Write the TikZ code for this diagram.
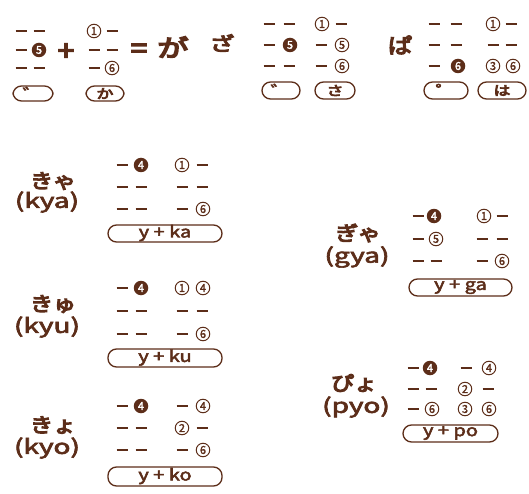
\documentclass[tikz,border=0pt]{standalone}
\usepackage{fontspec}
\usepackage{graphicx}
\newfontfamily\cjk{Noto Sans CJK JP}[FakeBold=2.8]
\newfontfamily\cjkh{Noto Sans CJK JP}[FakeBold=5.5]
\newfontfamily\cjkn{Noto Sans CJK JP}[FakeBold=2]
\definecolor{br}{RGB}{92,45,25}
\newcommand\SX[2]{\scalebox{#1}[1]{#2}}
\tikzset{
  dashln/.style={draw=br, line width=1.6pt},
  ocirc/.style={circle, draw=br, line width=1pt, inner sep=0pt, minimum size=13.5pt, text=br, font=\cjkn\fontsize{11}{11}\selectfont},
  fcirc/.style={circle, fill=br, inner sep=0pt, minimum size=14.5pt, text=white, font=\cjkn\fontsize{11}{11}\selectfont},
  capsule/.style={draw=br, line width=1.3pt, rounded corners=8.5pt},
  captext/.style={text=br, inner sep=0pt, font=\cjk\fontsize{16}{16}\selectfont},
  kana/.style={text=br, inner sep=0pt, font=\cjkh\fontsize{20}{20}\selectfont},
  roma/.style={text=br, inner sep=0pt, font=\cjk\fontsize{20}{20}\selectfont},
  big/.style={text=br, inner sep=0pt, font=\cjkh\fontsize{20}{20}\selectfont},
}
\newcommand\Dsh[2]{\draw[dashln] ({#1-5.5},#2) -- ({#1+5.5},#2);}
\newcommand\Oc[3]{\node[ocirc] at (#1,#2) {#3};}
\newcommand\Fc[3]{\node[fcirc] at (#1,#2) {#3};}
\begin{document}
\begin{tikzpicture}[x=1pt,y=-1pt]
\useasboundingbox (0,0) rectangle (529,494);
% ---------- top: dakuten + ka = ga
\Dsh{21}{31}\Dsh{39}{31}
\Dsh{21}{50}\Fc{39}{50}{5}
\Dsh{21}{68}\Dsh{39}{68}
\draw[capsule] (13,86) rectangle (53,101);
\node[captext] (d1) at (33,93.5) {\SX{1.3}{゛}};
\node[big,font=\cjkh\fontsize{27}{27}\selectfont] (plus) at (66,52) {\SX{1.1}{+}};
\Oc{94}{31}{1}\Dsh{112}{31}
\Dsh{94}{50}\Dsh{112}{50}
\Dsh{94}{68}\Oc{112}{68}{6}
\draw[capsule] (86,86) rectangle (124,101);
\node[captext,font=\cjkh\fontsize{13}{13}\selectfont] (ka) at (105,93.5) {\SX{1.3}{か}};
\node[big,font=\cjkh\fontsize{27}{27}\selectfont] (eq) at (139,51) {\SX{1.1}{=}};
\node[big,font=\cjkh\fontsize{24}{24}\selectfont] (ga) at (173,47) {\SX{1.3}{が}};
% ---------- za
\node[big,font=\cjkh\fontsize{19}{19}\selectfont] (za) at (222,43) {\SX{1.3}{ざ}};
\Dsh{269}{24}\Dsh{289}{24}
\Dsh{269}{45}\Fc{290}{45}{5}
\Dsh{269}{66}\Dsh{289}{66}
\draw[capsule] (262,82) rectangle (300,99);
\node[captext] (d2) at (281,90.5) {\SX{1.3}{゛}};
\Oc{322}{24}{1}\Dsh{341}{24}
\Dsh{321}{45}\Oc{342}{45}{5}
\Dsh{321}{66}\Oc{342}{66}{6}
\draw[capsule] (315,82) rectangle (355,99);
\node[captext,font=\cjkh\fontsize{13}{13}\selectfont] (sa) at (335,90.5) {\SX{1.3}{さ}};
% ---------- pa
\node[big,font=\cjkh\fontsize{21}{21}\selectfont] (pa) at (400,45) {\SX{1.15}{ぱ}};
\Dsh{434}{24}\Dsh{456}{24}
\Dsh{434}{45}\Dsh{456}{45}
\Dsh{434}{66}\Fc{458}{66}{6}
\draw[capsule] (424,82) rectangle (468,99);
\node[captext] (hd) at (446,90.5) {\SX{1.3}{゜}};
\Oc{493}{24}{1}\Dsh{511}{24}
\Dsh{493}{45}\Dsh{511}{45}
\Oc{493}{66}{3}\Oc{513}{66}{6}
\draw[capsule] (478,82) rectangle (526,99);
\node[captext,font=\cjkh\fontsize{13}{13}\selectfont] (ha) at (502,90.5) {\SX{1.3}{は}};
% ---------- kya
\node[kana] (kya) at (53,181) {\SX{1.15}{きゃ}};
\node[roma] (kyar) at (47,202) {\SX{1.4}{(kya)}};
\Dsh{122}{165}\Fc{141}{165}{4}
\Dsh{122}{187}\Dsh{141}{187}
\Dsh{122}{209}\Dsh{141}{209}
\Oc{182}{165}{1}\Dsh{202}{165}
\Dsh{182}{187}\Dsh{202}{187}
\Dsh{182}{209}\Oc{203}{209}{6}
\draw[capsule] (108,225) rectangle (222,242);
\node[captext] (yka) at (165,233) {\SX{1.25}{y + ka}};
% ---------- kyu
\node[kana] (kyu) at (53,304) {\SX{1.15}{きゅ}};
\node[roma] (kyur) at (47,327) {\SX{1.4}{(kyu)}};
\Dsh{122}{288}\Fc{141}{288}{4}
\Dsh{122}{311}\Dsh{141}{311}
\Dsh{122}{334}\Dsh{141}{334}
\Oc{182}{288}{1}\Oc{203}{288}{4}
\Dsh{182}{311}\Dsh{202}{311}
\Dsh{182}{334}\Oc{203}{334}{6}
\draw[capsule] (108,349) rectangle (222,367);
\node[captext] (yku) at (165,357.5) {\SX{1.25}{y + ku}};
% ---------- kyo
\node[kana] (kyo) at (53,425) {\SX{1.15}{きょ}};
\node[roma] (kyor) at (47,448) {\SX{1.4}{(kyo)}};
\Dsh{122}{406}\Fc{141}{406}{4}
\Dsh{122}{428}\Dsh{141}{428}
\Dsh{122}{450}\Dsh{141}{450}
\Dsh{182}{406}\Oc{203}{406}{4}
\Oc{182}{428}{2}\Dsh{202}{428}
\Dsh{182}{450}\Oc{203}{450}{6}
\draw[capsule] (108,467) rectangle (222,486);
\node[captext] (yko) at (165,476) {\SX{1.25}{y + ko}};
% ---------- gya
\node[kana] (gya) at (358,233) {\SX{1.15}{ぎゃ}};
\node[roma] (gyar) at (357,257) {\SX{1.4}{(gya)}};
\Dsh{418}{216}\Fc{434}{216}{4}
\Dsh{418}{239}\Oc{436}{239}{5}
\Dsh{418}{261}\Dsh{436}{261}
\Oc{484}{216}{1}\Dsh{502}{216}
\Dsh{482}{239}\Dsh{502}{239}
\Dsh{482}{261}\Oc{502}{261}{6}
\draw[capsule] (409,279) rectangle (512,296);
\node[captext] (yga) at (460.5,287) {\SX{1.25}{y + ga}};
% ---------- pyo
\node[kana] (pyo) at (354,383) {\SX{1.15}{ぴょ}};
\node[roma] (pyor) at (356,407) {\SX{1.4}{(pyo)}};
\Dsh{413}{368}\Fc{430}{368}{4}
\Dsh{413}{389}\Dsh{431}{389}
\Dsh{413}{409}\Oc{432}{409}{6}
\Dsh{466}{368}\Oc{489}{368}{4}
\Oc{465}{389}{2}\Dsh{488}{389}
\Oc{465}{409}{3}\Oc{489}{409}{6}
\draw[capsule] (403,425) rectangle (498,442);
\node[captext] (ypo) at (450.5,433) {\SX{1.25}{y + po}};
\end{tikzpicture}
\end{document}
